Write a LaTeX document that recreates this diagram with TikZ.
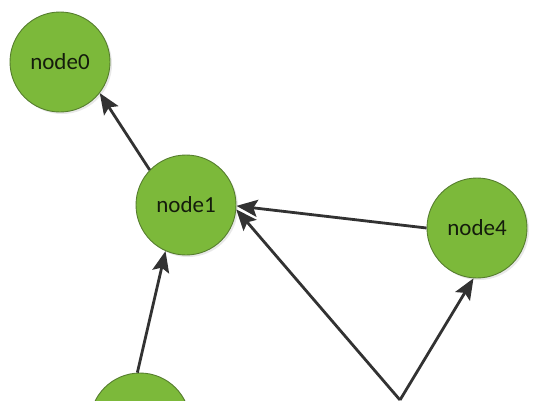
\documentclass[tikz,border=0pt]{standalone}
\usepackage{fontspec}
\setmainfont{Carlito}
\usetikzlibrary{arrows.meta,shadows}
\definecolor{nodegreen}{RGB}{124,185,58}
\definecolor{nodeborder}{RGB}{86,126,46}
\definecolor{edgegray}{RGB}{50,50,50}
\definecolor{textdark}{RGB}{20,28,12}
\tikzset{
  gnode/.style={circle, minimum size=100pt, inner sep=0pt, fill=nodegreen,
    draw=nodeborder, line width=0.9pt, text=textdark,
    font=\fontsize{23}{27}\selectfont,
    drop shadow={opacity=0.18, shadow xshift=2pt, shadow yshift=-2pt}},
  gedge/.style={draw=edgegray, line width=2.8pt,
    -{Stealth[length=21pt,width=17pt,inset=4pt]}}
}
\begin{document}
\begin{tikzpicture}[x=1pt,y=-1pt]
\useasboundingbox (0,0) rectangle (534,400);
\clip (0,0) rectangle (534,400);
\fill[white] (0,0) rectangle (534,400);
\node[gnode] (node0) at (60,62) {node0};
\node[gnode] (node1) at (186,205) {node1};
\node[gnode] (node4) at (477,228) {node4};
\node[gnode] (nodeb) at (140,423) {};
\coordinate (src) at (400,400);
\draw[gedge] (node1.136) -- (node0.-38);
\draw[gedge] (nodeb.93) -- (node1.-114);
\draw[gedge] (node4.180) -- (node1.-1);
\draw[gedge] (src) -- (node1.-5);
\draw[gedge] (src) -- (node4.-94);
\end{tikzpicture}
\end{document}
